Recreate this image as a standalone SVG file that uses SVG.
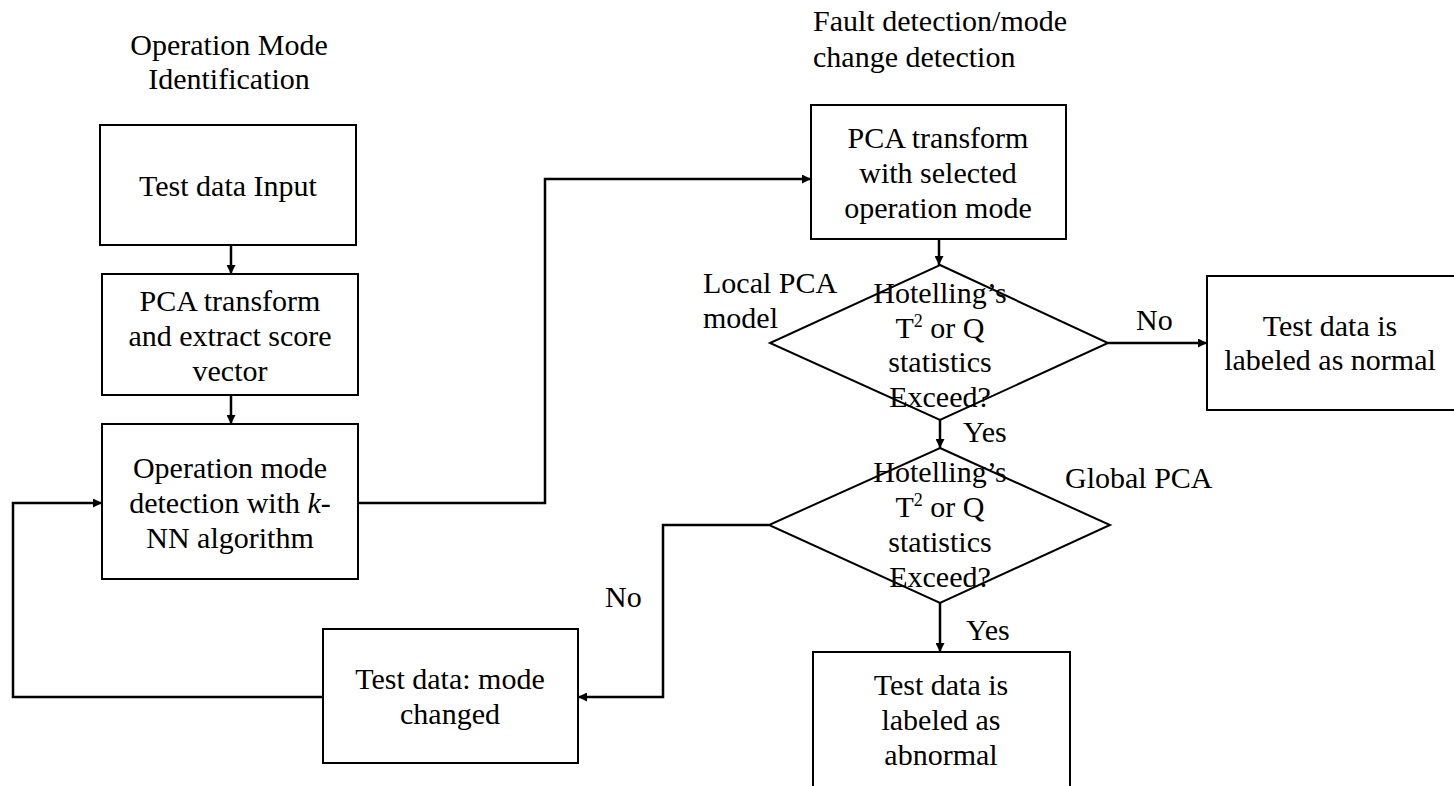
<svg xmlns="http://www.w3.org/2000/svg" width="1454" height="786" viewBox="0 0 1454 786">
<style>
text{font-family:'Liberation Serif','DejaVu Serif',serif;font-size:30px;fill:#000;}
.c{text-anchor:middle;}
.box{fill:#fff;stroke:#000;stroke-width:2;}
.dia{fill:none;stroke:#000;stroke-width:2;}
.ln{fill:none;stroke:#000;stroke-width:2.5;marker-end:url(#ah);}
.sup{font-size:18px;}
</style>
<defs>
<marker id="ah" viewBox="0 0 10 10" refX="10" refY="5" markerUnits="userSpaceOnUse" markerWidth="10" markerHeight="9" orient="auto">
<path d="M0,0 L10,5 L0,10 z" fill="#000"/>
</marker>
</defs>

<g font-family="Liberation Serif, DejaVu Serif, serif">
<g id="titles">
<text class="c" x="229" y="55">Operation Mode</text>
<text class="c" x="229" y="89">Identification</text>
<text x="813" y="31">Fault detection/mode</text>
<text x="813" y="67">change detection</text>
</g>

<g id="connectors">
<path class="ln" d="M231,245 L231,274"/>
<path class="ln" d="M231,395 L231,424"/>
<path class="ln" d="M358,503 L545,503 L545,179 L811,179"/>
<path class="ln" d="M939,239 L939,265"/>
<path class="ln" d="M1108,343 L1207,343"/>
<path class="ln" d="M940,420 L940,448"/>
<path class="ln" d="M940,603 L940,652"/>
<path class="ln" d="M769,525 L663,525 L663,697 L578,697"/>
<path class="ln" d="M323,697 L13,697 L13,503 L102,503"/>
</g>

<g id="n_input">
<rect class="box" x="100" y="125" width="256" height="120"/>
<text class="c" x="228" y="196">Test data Input</text>
</g>

<g id="n_pca">
<rect class="box" x="102" y="274" width="256" height="121"/>
<text class="c" x="230" y="311">PCA transform</text>
<text class="c" x="230" y="346">and extract score</text>
<text class="c" x="230" y="381">vector</text>
</g>

<g id="n_knn">
<rect class="box" x="102" y="424" width="256" height="155"/>
<text class="c" x="230" y="478">Operation mode</text>
<text class="c" x="230" y="513">detection with <tspan font-style="italic">k</tspan>-</text>
<text class="c" x="230" y="548">NN algorithm</text>
</g>

<g id="n_pca2">
<rect class="box" x="811" y="105" width="255" height="134"/>
<text class="c" x="938" y="148">PCA transform</text>
<text class="c" x="938" y="183">with selected</text>
<text class="c" x="938" y="218">operation mode</text>
</g>

<g id="n_local">
<polygon class="dia" points="940,265 1108,343 940,420 770,343"/>
<text class="c" x="940" y="303">Hotelling’s</text>
<text class="c" x="940" y="338">T<tspan class="sup" dy="-11">2</tspan><tspan dy="11"> or Q</tspan></text>
<text class="c" x="940" y="372">statistics</text>
<text class="c" x="940" y="407">Exceed?</text>
</g>
<g id="l_local">
<text x="703" y="293">Local PCA</text>
<text x="703" y="328">model</text>
</g>

<g id="n_normal">
<rect class="box" x="1207" y="276" width="260" height="134"/>
<text class="c" x="1330" y="336">Test data is</text>
<text class="c" x="1330" y="370">labeled as normal</text>
</g>

<g id="n_global">
<polygon class="dia" points="940,448 1110,525 940,603 769,525"/>
<text class="c" x="940" y="482">Hotelling’s</text>
<text class="c" x="940" y="517">T<tspan class="sup" dy="-11">2</tspan><tspan dy="11"> or Q</tspan></text>
<text class="c" x="940" y="552">statistics</text>
<text class="c" x="940" y="587">Exceed?</text>
</g>
<g id="l_global">
<text x="1065" y="488">Global PCA</text>
</g>

<g id="n_abnormal">
<rect class="box" x="813" y="652" width="257" height="150"/>
<text class="c" x="941" y="695">Test data is</text>
<text class="c" x="941" y="730">labeled as</text>
<text class="c" x="941" y="765">abnormal</text>
</g>

<g id="n_changed">
<rect class="box" x="323" y="629" width="255" height="134"/>
<text class="c" x="450" y="689">Test data: mode</text>
<text class="c" x="450" y="724">changed</text>
</g>

<g id="labels">
<text x="1136" y="330">No</text>
<text x="963" y="442">Yes</text>
<text x="966" y="640">Yes</text>
<text x="605" y="607">No</text>
</g>
</g>
</svg>
